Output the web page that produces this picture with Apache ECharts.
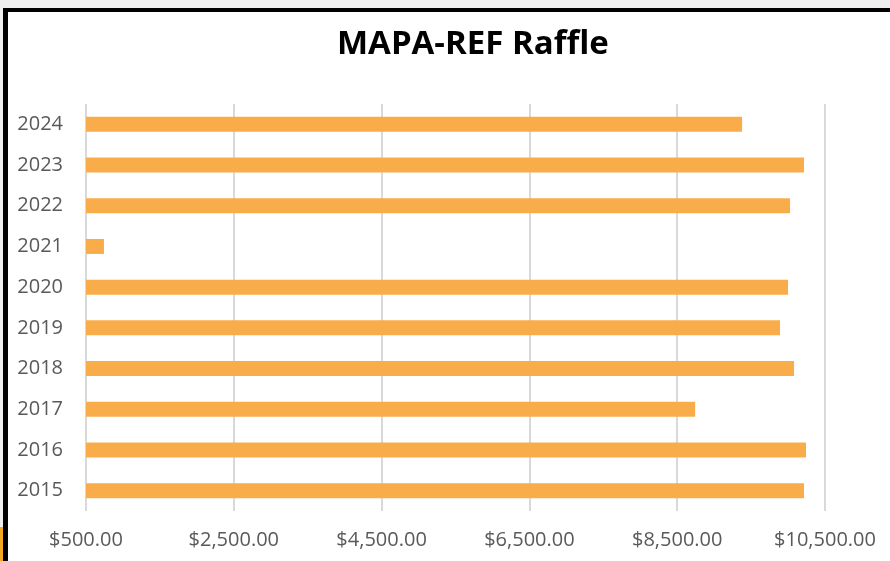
<!DOCTYPE html>
<html>
<head>
<meta charset="utf-8">
<script src="https://cdn.jsdelivr.net/npm/echarts@6/dist/echarts.min.js"></script>
<style>
  html, body { margin: 0; padding: 0; background: #efefef; }
  #frame { position: absolute; left: 3px; top: 8px; width: 887px; height: 553px;
           border-left: 5px solid #000; border-top: 4px solid #000; background: #fff; box-sizing: border-box; }
  #tab { position: absolute; left: 0; top: 527px; width: 3px; height: 34px; background: #f5a623; }
  #main { position: absolute; left: 0; top: 0; width: 890px; height: 561px; }
</style>
</head>
<body>
<div id="frame"></div>
<div id="tab"></div>
<div id="main"></div>
<script>
// 年份 (bottom to top)
var years = ['2015', '2016', '2017', '2018', '2019', '2020', '2021', '2022', '2023', '2024'];
// 抽奖金额
var amounts = [10216, 10243, 8743, 10081, 9892, 10000, 743, 10027, 10216, 9378];
var xTicks = [500, 2500, 4500, 6500, 8500, 10500];

var raffleChart = echarts.init(document.getElementById('main'));

raffleChartOption = {
    title: {
        text: 'MAPA-REF Raffle',
        left: 332,
        top: 23,
        textStyle: {
            fontFamily: 'Open Sans',
            fontWeight: 'bold',
            fontSize: 33,
            color: '#000'
        }
    },
    grid: {
        left: 86,
        right: 65,
        top: 104,
        bottom: 50
    },
    xAxis: {
        type: 'value',
        min: xTicks[0],
        max: xTicks[xTicks.length - 1],
        interval: 2000,
        axisLine: { show: false },
        axisTick: { show: false },
        splitLine: { lineStyle: { color: '#d9d9d9', width: 2 } },
        axisLabel: {
            margin: 19,
            color: '#595959',
            fontFamily: 'Open Sans',
            fontSize: 20,
            formatter: function (v) {
                return '$' + v.toLocaleString('en-US', {minimumFractionDigits: 2, maximumFractionDigits: 2});
            }
        }
    },
    yAxis: {
        type: 'category',
        data: years,
        axisLine: { show: false },
        axisTick: { show: false },
        axisLabel: {
            margin: 23,
            color: '#595959',
            fontFamily: 'Open Sans',
            fontSize: 20
        }
    },
    series: [
        {
            type: 'bar',
            data: amounts,
            barWidth: 15,
            itemStyle: { color: '#f9ad4a' },
            animation: false
        }
    ]
};

raffleChart.setOption(raffleChartOption);
</script>
</body>
</html>
